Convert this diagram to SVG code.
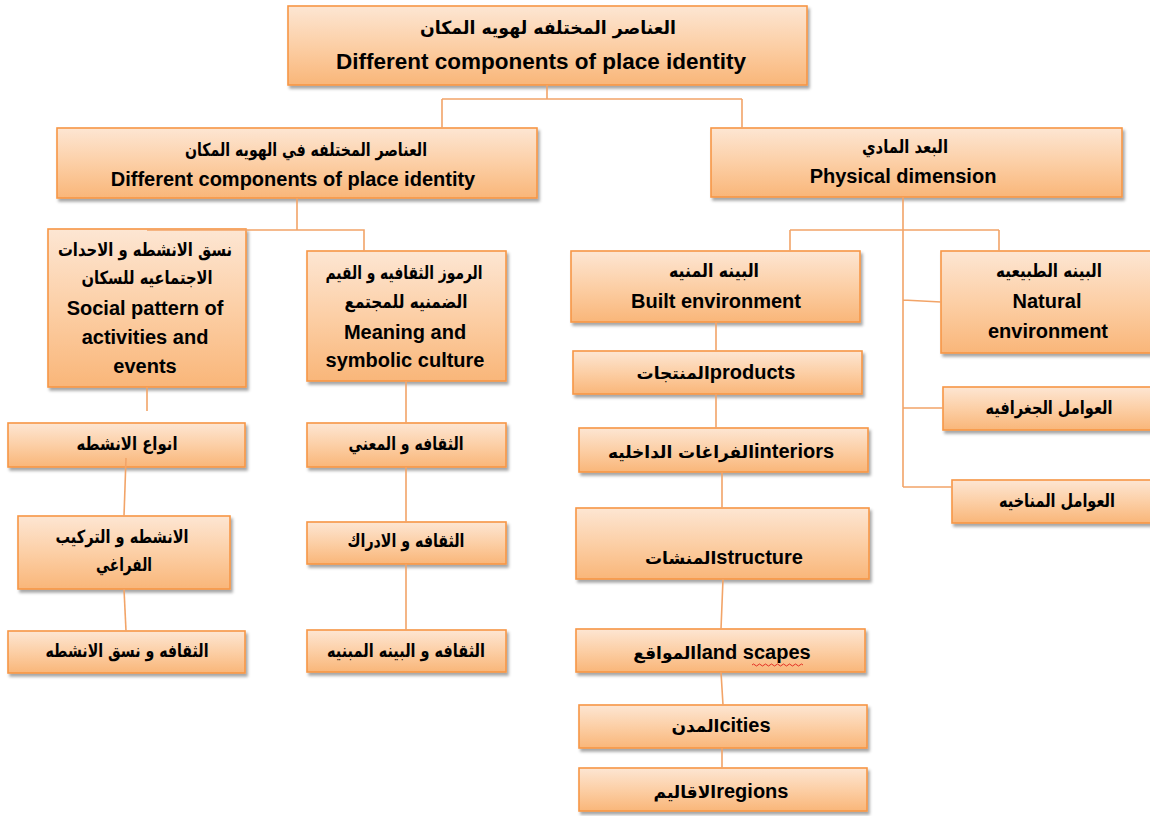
<svg xmlns="http://www.w3.org/2000/svg" width="1150" height="816" viewBox="0 0 1150 816">
<defs>
<linearGradient id="g" x1="0" y1="0" x2="0" y2="1">
<stop offset="0" stop-color="#fde6d3"/>
<stop offset="0.5" stop-color="#fccfa6"/>
<stop offset="1" stop-color="#f9b679"/>
</linearGradient>
<filter id="sh" x="-5%" y="-10%" width="115%" height="130%">
<feDropShadow dx="2" dy="3" stdDeviation="1.5" flood-color="#000" flood-opacity="0.35"/>
</filter>
<style>
.box{fill:url(#g);stroke:#f79646;stroke-width:1.6;filter:url(#sh);}
.t{font-family:"Liberation Sans","DejaVu Sans",sans-serif;font-weight:bold;font-size:20px;fill:#000;text-anchor:middle;}
.ar{font-family:"DejaVu Sans","Liberation Sans",sans-serif;font-size:18px;}
.m{font-size:17px;}
.big{font-size:22.5px;}
.c{fill:none;stroke:#f2a468;stroke-width:1.6;}
</style>
</defs>
<rect width="1150" height="816" fill="#fff"/>

<g id="n-top"><rect class="box" x="288" y="6" width="519" height="79"/>
<text class="t ar" x="548" y="34" textLength="256" lengthAdjust="spacingAndGlyphs">العناصر المختلفه لهويه المكان</text>
<text class="t big" x="541" y="69">Different components of place identity</text></g>

<g id="n-components"><rect class="box" x="57" y="128" width="480" height="70"/>
<text class="t ar" x="306" y="156" textLength="242" lengthAdjust="spacingAndGlyphs">العناصر المختلفه في الهويه المكان</text>
<text class="t" x="293" y="186">Different components of place identity</text></g>

<g id="n-physical"><rect class="box" x="711" y="128" width="411" height="69"/>
<text class="t ar" x="905" y="153" textLength="86" lengthAdjust="spacingAndGlyphs">البعد المادي</text>
<text class="t" x="903" y="183">Physical dimension</text></g>

<g id="n-social"><rect class="box" x="48" y="229" width="198" height="158"/>
<text class="t ar" x="145" y="256" textLength="174" lengthAdjust="spacingAndGlyphs">نسق الانشطه و الاحدات</text>
<text class="t ar" x="147" y="284" textLength="131" lengthAdjust="spacingAndGlyphs">الاجتماعيه للسكان</text>
<text class="t" x="145" y="315">Social pattern of</text>
<text class="t" x="145" y="344">activities and</text>
<text class="t" x="145" y="373">events</text></g>

<g id="n-meaning"><rect class="box" x="307" y="251" width="199" height="130"/>
<text class="t ar" x="404" y="279" textLength="157" lengthAdjust="spacingAndGlyphs">الرموز الثقافيه و القيم</text>
<text class="t ar" x="406" y="308" textLength="123" lengthAdjust="spacingAndGlyphs">الضمنيه للمجتمع</text>
<text class="t" x="405" y="339">Meaning and</text>
<text class="t" x="405" y="367">symbolic culture</text></g>

<g id="n-activity-types"><rect class="box" x="8" y="423" width="237" height="44"/>
<text class="t ar" x="127" y="450" textLength="101" lengthAdjust="spacingAndGlyphs">انواع الانشطه</text></g>

<g id="n-activity-spatial"><rect class="box" x="18" y="516" width="212" height="73"/>
<text class="t ar" x="122" y="543" textLength="133" lengthAdjust="spacingAndGlyphs">الانشطه و التركيب</text>
<text class="t ar" x="124" y="571" textLength="56" lengthAdjust="spacingAndGlyphs">الفراغي</text></g>

<g id="n-culture-activity"><rect class="box" x="8" y="631" width="237" height="42"/>
<text class="t ar" x="127" y="657" textLength="163" lengthAdjust="spacingAndGlyphs">الثقافه و نسق الانشطه</text></g>

<g id="n-culture-meaning"><rect class="box" x="307" y="423" width="199" height="44"/>
<text class="t ar" x="406" y="450" textLength="115" lengthAdjust="spacingAndGlyphs">الثقافه و المعني</text></g>

<g id="n-culture-perception"><rect class="box" x="307" y="522" width="199" height="42"/>
<text class="t ar" x="406" y="547" textLength="117" lengthAdjust="spacingAndGlyphs">الثقافه و الادراك</text></g>

<g id="n-culture-built"><rect class="box" x="307" y="630" width="199" height="42"/>
<text class="t ar" x="406" y="657" textLength="158" lengthAdjust="spacingAndGlyphs">الثقافه و البينه المبنيه</text></g>

<g id="n-built"><rect class="box" x="571" y="251" width="289" height="71"/>
<text class="t ar" x="714" y="277" textLength="90" lengthAdjust="spacingAndGlyphs">البينه المنيه</text>
<text class="t" x="716" y="308">Built environment</text></g>

<g id="n-natural"><rect class="box" x="941" y="251" width="215" height="102"/>
<text class="t ar" x="1049" y="277" textLength="106" lengthAdjust="spacingAndGlyphs">البينه الطبيعيه</text>
<text class="t" x="1047" y="308">Natural</text>
<text class="t" x="1048" y="338">environment</text></g>

<g id="n-products"><rect class="box" x="573" y="351" width="289" height="43"/>
<text class="t" x="716" y="379"><tspan class="ar m">المنتجات</tspan>products</text></g>

<g id="n-interiors"><rect class="box" x="579" y="428" width="289" height="44"/>
<text class="t" x="721" y="458"><tspan class="ar m">الفراغات الداخليه</tspan>interiors</text></g>

<g id="n-structure"><rect class="box" x="576" y="508" width="293" height="71"/>
<text class="t" x="724" y="564"><tspan class="ar m">المنشات</tspan>structure</text></g>

<g id="n-landscapes"><rect class="box" x="576" y="629" width="289" height="43"/>
<text class="t" x="722" y="659"><tspan class="ar m">المواقع</tspan>land scapes</text></g>

<g id="n-cities"><rect class="box" x="579" y="705" width="288" height="43"/>
<text class="t" x="721" y="732"><tspan class="ar m">المدن</tspan>cities</text></g>

<g id="n-regions"><rect class="box" x="579" y="768" width="288" height="43"/>
<text class="t" x="721" y="798"><tspan class="ar m">الاقاليم</tspan>regions</text></g>

<g id="n-geo"><rect class="box" x="943" y="387" width="215" height="43"/>
<text class="t ar" x="1049" y="414" textLength="127" lengthAdjust="spacingAndGlyphs">العوامل الجغرافيه</text></g>

<g id="n-climate"><rect class="box" x="952" y="480" width="210" height="43"/>
<text class="t ar" x="1057" y="507" textLength="116" lengthAdjust="spacingAndGlyphs">العوامل المناخيه</text></g>

<g id="connectors" class="c">
<path d="M547,85 V99 M442,99 H742 M442,99 V128 M742,99 V128"/>
<path d="M297,198 V230 M147,230 H364 V251"/>
<path d="M147,387 V411"/>
<path d="M126,458 L124,516"/>
<path d="M124,589 L126,631"/>
<path d="M406,381 V423 M406,467 V522 M406,564 V630"/>
<path d="M903,197 V487 M790,230 H999 M790,230 V251 M999,230 V251 M903,300 L941,302 M903,408 H943 M903,487 H952"/>
<path d="M716,322 V351 M716,394 V428 M722,472 V508 M723,579 L721,629 M721,672 L723,705 M722,748 V768"/>
</g>
<path id="spell" d="M752,665 q1.5,-2 3,0 t3,0 t3,0 t3,0 t3,0 t3,0 t3,0 t3,0 t3,0 t3,0 t3,0 t3,0 t3,0 t3,0 t3,0 t3,0 t3,0" fill="none" stroke="#e0201a" stroke-width="0.9"/>
</svg>
